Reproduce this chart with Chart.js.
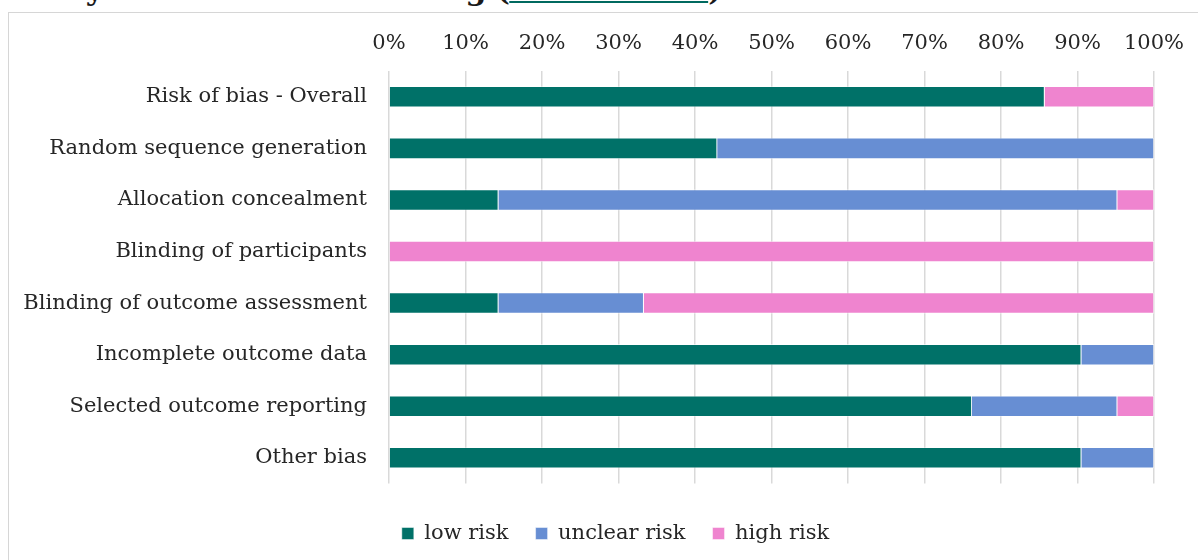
<!DOCTYPE html>
<html>
<head>
<meta charset="utf-8">
<script src="https://cdn.jsdelivr.net/npm/chart.js@4/dist/chart.umd.min.js"></script>
<style>
  html, body { margin: 0; padding: 0; background: #fff; }
  body { width: 1198px; height: 560px; overflow: hidden; position: relative; }
  h2 {
    position: absolute; left: 9px; top: -28px; margin: 0;
    font: bold 30px "DejaVu Serif", Georgia, serif; color: #1a1a1a; white-space: nowrap;
    line-height: 36px; letter-spacing: -0.4px;
  }
  h2 .tight { letter-spacing: -0.6px; }
  h2 a { color: #00695f; text-decoration: underline; text-decoration-thickness: 2px; letter-spacing: -3.5px; }
  .frame {
    position: absolute; left: 8px; top: 12px; width: 1400px; height: 700px;
    border: 1px solid #d6d6d6; box-sizing: border-box;
  }
  .wrap { position: absolute; left: 9px; top: 13px; width: 1195px; height: 547px; }
</style>
</head>
<body>
<h2>Study<span class="tight"> risk of bias item rating (</span><a href="#">Cochrane RoB</a>)</h2>
<div class="frame"></div>
<div class="wrap"><canvas id="chart"></canvas></div>
<script>
// Risk-of-bias domains and the share of studies in each judgement (%)
const categories = [
  'Risk of bias - Overall',
  'Random sequence generation',
  'Allocation concealment',
  'Blinding of participants',
  'Blinding of outcome assessment',
  'Incomplete outcome data',
  'Selected outcome reporting',
  'Other bias'
];
const lowRisk     = [85.7, 42.9, 14.3, 0,   14.3, 90.5, 76.2, 90.5];
const unclearRisk = [0,    57.1, 80.9, 0,   19.0, 9.5,  19.0, 9.5];
const highRisk    = [14.3, 0,    4.8,  100, 66.7, 0,    4.8,  0];
const xTicks = [0, 10, 20, 30, 40, 50, 60, 70, 80, 90, 100];

const serif = '"DejaVu Serif", Georgia, serif';
const textColor = '#262626';

const series = [
  { label: 'low risk',     data: lowRisk,     color: '#007168' },
  { label: 'unclear risk', data: unclearRisk, color: '#678ED3' },
  { label: 'high risk',    data: highRisk,    color: '#EF84CF' }
];

// The legend is centred under the whole frame rather than the plot area.
const legendShift = {
  id: 'legendShift',
  afterLayout(chart) {
    const lg = chart.legend;
    if (lg) { lg.left += 29; lg.right += 29; }
  }
};

new Chart(document.getElementById('chart'), {
  type: 'bar',
  data: {
    labels: categories,
    datasets: series.map(s => ({
      label: s.label,
      data: s.data,
      backgroundColor: s.color,
      borderColor: 'rgba(255,255,255,0.6)',
      borderWidth: 0.8,
      barPercentage: 0.41,
      categoryPercentage: 1
    }))
  },
  plugins: [legendShift],
  options: {
    indexAxis: 'y',
    responsive: true,
    maintainAspectRatio: false,
    animation: false,
    layout: { padding: { left: 10, right: 50, top: 0, bottom: 6 } },
    scales: {
      x: {
        position: 'top',
        stacked: true,
        min: 0,
        max: 100,
        afterBuildTicks: axis => { axis.ticks = xTicks.map(v => ({ value: v })); },
        afterFit: axis => { axis.height = 58; },
        grid: { color: '#d9d9d9', lineWidth: 1.5, drawTicks: false },
        border: { display: false },
        ticks: {
          padding: 15,
          color: textColor,
          font: { family: serif, size: 21 },
          callback: v => v + '%'
        }
      },
      y: {
        stacked: true,
        afterFit: axis => { axis.width = 370; },
        grid: { display: false, drawTicks: false },
        border: { display: false },
        ticks: {
          padding: 22,
          color: textColor,
          font: { family: serif, size: 21 }
        }
      }
    },
    plugins: {
      tooltip: { enabled: false },
      legend: {
        position: 'bottom',
        title: { display: true, text: '', font: { size: 2 }, padding: { top: 5, bottom: 5 } },
        labels: {
          boxWidth: 12,
          boxHeight: 12,
          padding: 27,
          color: textColor,
          font: { family: serif, size: 21 }
        }
      }
    }
  }
});
</script>
</body>
</html>
